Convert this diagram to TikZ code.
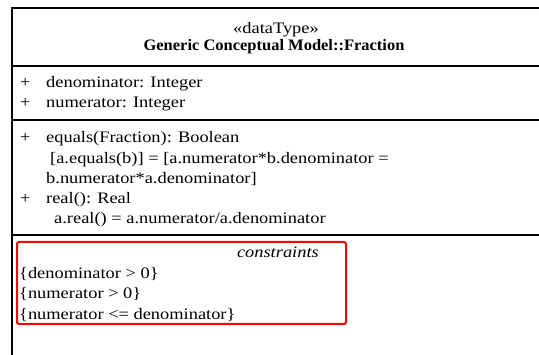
\documentclass[tikz,border=0pt]{standalone}
\usepackage{fontspec}
\setmainfont[FakeStretch=1.15]{Liberation Serif}
\newfontfamily\titlefont[FakeStretch=1.03]{Liberation Serif}
\begin{document}
\begin{tikzpicture}[x=1pt,y=-1pt,
  txt/.style={inner sep=0pt, anchor=base west, font=\fontsize{16}{18}\selectfont},
  ctr/.style={inner sep=0pt, anchor=base, font=\fontsize{16}{18}\selectfont},
  frame/.style={line width=2pt, draw=black},
  note/.style={line width=2pt, draw=red, rounded corners=2pt}]
\useasboundingbox (0,0) rectangle (539,355);
\fill[white] (0,0) rectangle (539,355);

% class outline and compartment separators
\draw[frame] (560,8) -- (11.5,8) -- (11.5,370);
\draw[frame] (11.5,66) -- (560,66);
\draw[frame] (11.5,120) -- (560,120);
\draw[frame] (11.5,235) -- (560,235);

% header
\node[ctr] (stereo) at (276,34) {«dataType»};
\node[ctr, font=\titlefont\fontsize{16}{18}\selectfont\bfseries] (title) at (274,51) {Generic Conceptual Model::Fraction};

% attributes
\node[txt] (p1) at (20,88) {+};
\node[txt] (a1) at (46,88) {denominator: Integer};
\node[txt] (p2) at (20,108) {+};
\node[txt] (a2) at (46,108) {numerator: Integer};

% operations
\node[txt] (p3) at (20,143) {+};
\node[txt] (o1) at (46,143) {equals(Fraction): Boolean};
\node[txt] (o1a) at (50,164) {[a.equals(b)] = [a.numerator*b.denominator =};
\node[txt] (o1b) at (46,184) {b.numerator*a.denominator]};
\node[txt] (p4) at (20,204) {+};
\node[txt] (o2) at (46,204) {real(): Real};
\node[txt] (o2a) at (54,224) {a.real() = a.numerator/a.denominator};

% constraints compartment
\node[inner sep=0pt, anchor=base east, font=\fontsize{16}{18}\selectfont\itshape] (ch) at (319,258) {constraints};
\node[txt] (c1) at (19,279) {\{denominator > 0\}};
\node[txt] (c2) at (19,299) {\{numerator > 0\}};
\node[txt] (c3) at (19,320) {\{numerator <= denominator\}};

% highlight around the constraints
\draw[note] (17,242) rectangle (346,324);
\end{tikzpicture}
\end{document}
